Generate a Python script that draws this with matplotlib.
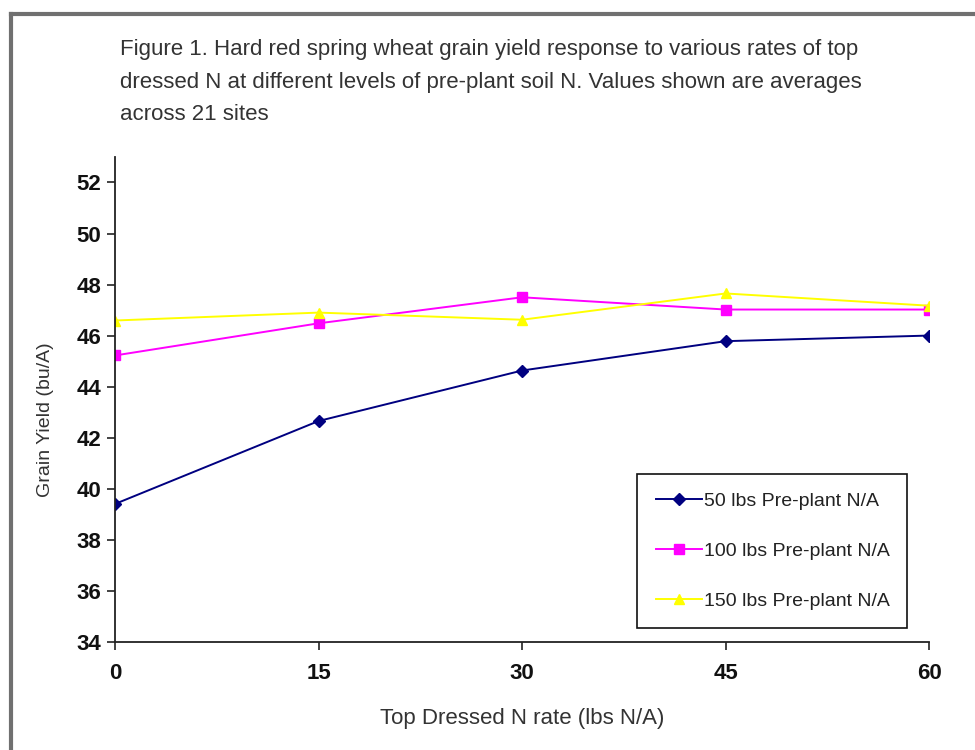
import matplotlib
matplotlib.use("Agg")
import matplotlib.pyplot as plt
from matplotlib.lines import Line2D

# Top dressed N rates and yields (bu/A) for each pre-plant soil N level
top_dressed_n = [0, 15, 30, 45, 60]
yield_50 = [39.4, 42.65, 44.63, 45.78, 46.0]
yield_100 = [45.22, 46.48, 47.5, 47.02, 47.02]
yield_150 = [46.59, 46.9, 46.62, 47.65, 47.17]
series_labels = ["50 lbs Pre-plant N/A", "100 lbs Pre-plant N/A", "150 lbs Pre-plant N/A"]
y_ticks = list(range(34, 53, 2))
title_lines = [
    "Figure 1. Hard red spring wheat grain yield response to various rates of top",
    "dressed N at different levels of pre-plant soil N. Values shown are averages",
    "across 21 sites",
]

fonts = ["Liberation Sans", "DejaVu Sans"]
W, H = 975, 750

fig = plt.figure(figsize=(9.75, 7.5), dpi=100)
ax = fig.add_axes([0.118, 0.1444, 0.835, 0.6463])

ax.plot(top_dressed_n, yield_50, color="#000080", marker="D", markersize=6,
        linewidth=1.4, label=series_labels[0])
ax.plot(top_dressed_n, yield_100, color="#FF00FF", marker="s", markersize=7,
        linewidth=1.4, label=series_labels[1])
ax.plot(top_dressed_n, yield_150, color="#FFFF00", marker="^", markersize=7,
        linewidth=1.4, label=series_labels[2])

ax.set_xlim(0, 60)
ax.set_ylim(34, 53)
ax.set_xticks(top_dressed_n)
ax.set_yticks(y_ticks)
ax.spines["top"].set_visible(False)
ax.spines["right"].set_visible(False)
for s in ("left", "bottom"):
    ax.spines[s].set_color("#222222")
    ax.spines[s].set_linewidth(1.3)
ax.tick_params(axis="both", direction="out", length=6, width=1.2, color="#222222")
for lab in ax.get_xticklabels() + ax.get_yticklabels():
    lab.set_family(fonts)
    lab.set_fontweight("bold")
    lab.set_fontsize(16)
    lab.set_color("#111111")
ax.tick_params(axis="x", pad=9)
ax.tick_params(axis="y", pad=4)

ax.set_xlabel("Top Dressed N rate (lbs N/A)", family=fonts, fontsize=16,
              color="#333333", va="center")
ax.xaxis.set_label_coords(0.5, (641.7 - 718) / (641.7 - 157))
ax.set_ylabel("Grain Yield (bu/A)", family=fonts, fontsize=14,
              color="#333333", va="center")
ax.yaxis.set_label_coords((45 - 115) / 814, (641.7 - 420) / (641.7 - 157))

leg = ax.legend(loc="lower left",
                bbox_to_anchor=((637 - 115) / 814, (641.7 - 628) / 484.7,
                                (907 - 637) / 814, (628 - 478) / 484.7),
                mode="expand", frameon=True, fancybox=False, framealpha=1,
                edgecolor="#111111", borderpad=0.95, borderaxespad=0,
                labelspacing=1.65, handlelength=2.4, handletextpad=0.1,
                prop={"family": fonts, "size": 14})
leg.get_frame().set_linewidth(1.2)
for t in leg.get_texts():
    t.set_color("#222222")

for line, yb in zip(title_lines, [55, 88, 120]):
    fig.text(120 / W, 1 - yb / H, line, family=fonts, fontsize=16,
             color="#333333", va="baseline", ha="left")

# grey frame along the top and left edge
fig.add_artist(Line2D([0.011, 0.011], [0.0, 0.982], transform=fig.transFigure,
                      color="#707070", linewidth=3))
fig.add_artist(Line2D([0.011, 1.0], [0.982, 0.982], transform=fig.transFigure,
                      color="#707070", linewidth=3))

fig.savefig("out.png", dpi=100)
